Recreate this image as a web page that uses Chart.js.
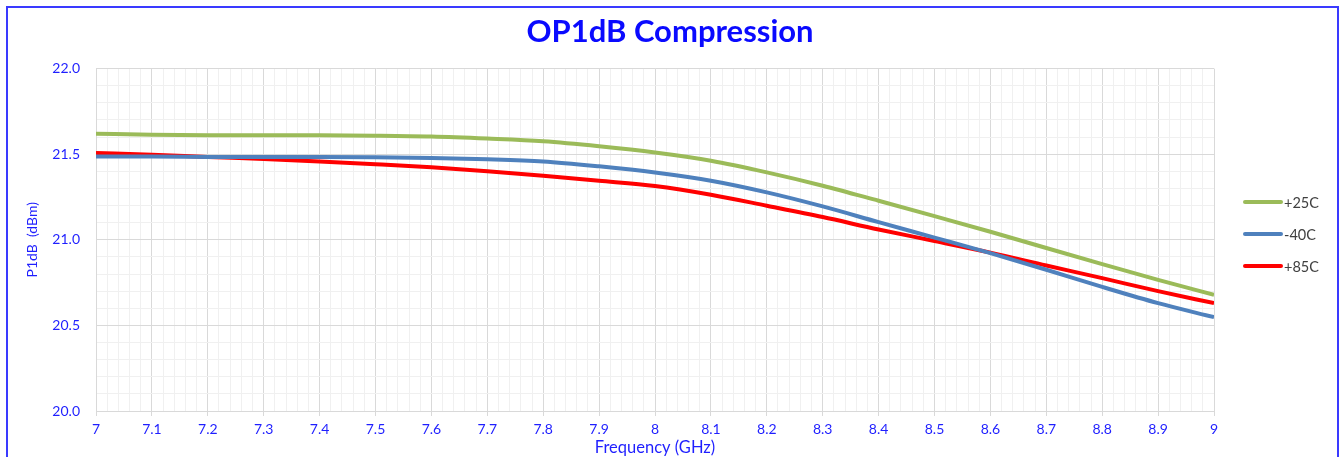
<!DOCTYPE html>
<html>
<head>
<meta charset="utf-8">
<script src="https://cdn.jsdelivr.net/npm/chart.js@4.4.1/dist/chart.umd.min.js"></script>
<style>
  html, body { margin: 0; padding: 0; background: #ffffff; }
  #wrap { width: 1340px; height: 457px; }
</style>
</head>
<body>
<div id="wrap"><canvas id="c" width="1340" height="457"></canvas></div>
<script>
// ---- data ----
const freqGHz = [7.0, 7.1, 7.2, 7.3, 7.4, 7.5, 7.6, 7.7, 7.8, 7.9, 8.0, 8.1, 8.2, 8.3, 8.4, 8.5, 8.6, 8.7, 8.8, 8.9, 9.0];
const p1dB_25C = [21.62, 21.614, 21.611, 21.61, 21.61, 21.608, 21.603, 21.591, 21.575, 21.546, 21.51, 21.462, 21.394, 21.316, 21.228, 21.138, 21.047, 20.952, 20.858, 20.766, 20.678];
const p1dB_m40C = [21.487, 21.487, 21.484, 21.483, 21.483, 21.482, 21.478, 21.471, 21.458, 21.429, 21.393, 21.345, 21.277, 21.195, 21.103, 21.013, 20.922, 20.825, 20.725, 20.63, 20.548];
const p1dB_85C = [21.507, 21.497, 21.484, 21.472, 21.458, 21.442, 21.424, 21.401, 21.374, 21.345, 21.314, 21.263, 21.199, 21.133, 21.06, 20.993, 20.925, 20.85, 20.776, 20.70, 20.63];
const seriesLabels = ['+25C', '-40C', '+85C'];
const seriesColors = ['#9bbb59', '#4f81bd', '#ff0000'];
const chartTitle = 'OP1dB Compression';
const xAxisTitle = 'Frequency (GHz)';
const yAxisTitle = 'P1dB  (dBm)';

const FONT = 'Lato, "Open Sans", sans-serif';
const BLUE = '#1f1fff';

function pts(ys) { return freqGHz.map((x, i) => ({ x: x, y: ys[i] })); }
function isMult(v, step) { const r = v / step; return Math.abs(r - Math.round(r)) < 1e-6; }

const bgBorder = {
  id: 'bgBorder',
  beforeDraw(chart) {
    const ctx = chart.ctx;
    ctx.save();
    ctx.fillStyle = '#ffffff';
    ctx.fillRect(0, 0, chart.width, chart.height);
    ctx.restore();
  },
  afterDraw(chart) {
    const ctx = chart.ctx;
    ctx.save();
    ctx.strokeStyle = '#3a3aff';
    ctx.lineWidth = 2;
    ctx.strokeRect(7, 7, 1331, 600);
    ctx.restore();
  }
};

const sideLegend = {
  id: 'sideLegend',
  afterDraw(chart) {
    const ctx = chart.ctx;
    ctx.save();
    chart.data.datasets.forEach((ds, i) => {
      const y = 202 + i * 32;
      ctx.strokeStyle = ds.borderColor;
      ctx.lineWidth = 4;
      ctx.lineCap = 'round';
      ctx.beginPath();
      ctx.moveTo(1245, y);
      ctx.lineTo(1281, y);
      ctx.stroke();
      ctx.fillStyle = '#404040';
      ctx.font = '14.5px ' + FONT;
      ctx.textBaseline = 'middle';
      ctx.textAlign = 'left';
      ctx.fillText(ds.label, 1284, y + 1);
    });
    ctx.restore();
  }
};

new Chart(document.getElementById('c'), {
  type: 'line',
  data: {
    datasets: [
      { label: seriesLabels[0], data: pts(p1dB_25C), borderColor: seriesColors[0] },
      { label: seriesLabels[1], data: pts(p1dB_m40C), borderColor: seriesColors[1] },
      { label: seriesLabels[2], data: pts(p1dB_85C), borderColor: seriesColors[2] }
    ]
  },
  options: {
    responsive: false,
    animation: false,
    devicePixelRatio: 1,
    layout: { padding: { left: 0, right: 0, top: 0, bottom: 0 } },
    elements: {
      point: { radius: 0, hoverRadius: 0 },
      line: { borderWidth: 4, tension: 0.4, cubicInterpolationMode: 'monotone', fill: false }
    },
    plugins: {
      legend: { display: false },
      tooltip: { enabled: false },
      title: {
        display: true,
        text: chartTitle,
        color: '#0a0aff',
        font: { family: FONT, size: 31, weight: 'bold', lineHeight: 1.2 },
        padding: { top: 13, bottom: 18.4 }
      }
    },
    scales: {
      x: {
        type: 'linear',
        min: 7, max: 9,
        afterFit(s) { s.height = 46; },
        ticks: {
          stepSize: 0.02,
          autoSkip: false,
          maxRotation: 0,
          minRotation: 0,
          padding: 5,
          color: BLUE,
          font: { family: FONT, size: 14 },
          callback(v) { return isMult(v, 0.1) ? String(Number(v.toFixed(1))) : ''; }
        },
        grid: {
          drawTicks: true,
          tickLength: 5,
          lineWidth: 1,
          color(ctx) { return ctx.tick && isMult(ctx.tick.value, 0.1) ? '#d9d9d9' : '#f0f0f0'; },
          tickColor(ctx) { return ctx.tick && isMult(ctx.tick.value, 0.1) ? '#d9d9d9' : 'rgba(0,0,0,0)'; }
        },
        border: { display: true, color: '#d9d9d9', width: 1 },
        title: {
          display: true,
          text: xAxisTitle,
          color: BLUE,
          font: { family: FONT, size: 16.5, lineHeight: 1.2 },
          padding: { top: 0, bottom: -1 }
        }
      },
      y: {
        type: 'linear',
        min: 20, max: 22,
        afterFit(s) { s.width = 96; },
        ticks: {
          stepSize: 0.1,
          autoSkip: false,
          padding: 16,
          color: BLUE,
          font: { family: FONT, size: 14 },
          callback(v) { return isMult(v, 0.5) ? v.toFixed(1) : ''; }
        },
        grid: {
          drawTicks: false,
          lineWidth: 1,
          color(ctx) { return ctx.tick && isMult(ctx.tick.value, 0.5) ? '#d9d9d9' : '#f0f0f0'; }
        },
        border: { display: true, color: '#d9d9d9', width: 1 },
        title: {
          display: true,
          text: yAxisTitle,
          color: BLUE,
          font: { family: FONT, size: 14, lineHeight: 1.2 },
          padding: { top: 24, bottom: 0 }
        }
      },
      yRightSpace: {
        type: 'linear',
        position: 'right',
        min: 20, max: 22,
        afterFit(s) { s.width = 126; },
        ticks: { display: false },
        grid: { display: false, drawOnChartArea: false },
        border: { display: false }
      }
    }
  },
  plugins: [bgBorder, sideLegend]
});
</script>
</body>
</html>
